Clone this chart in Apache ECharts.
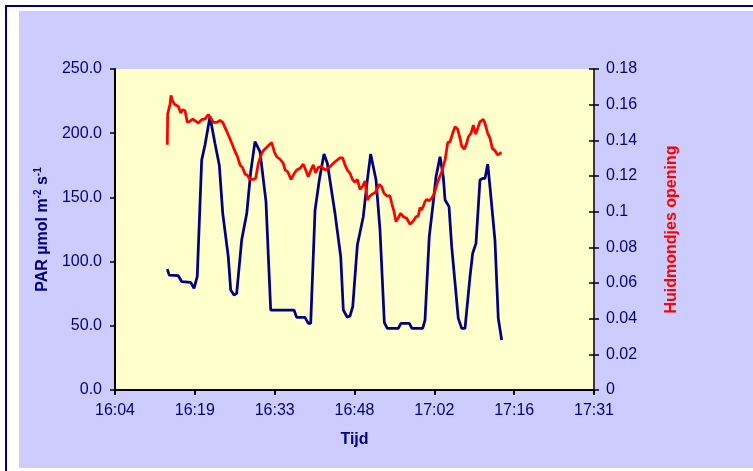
<!DOCTYPE html>
<html>
<head>
<meta charset="utf-8">
<title>PAR en huidmondjes opening</title>
<script src="https://cdn.jsdelivr.net/npm/echarts@6/dist/echarts.min.js"></script>
<style>
  html, body { margin: 0; padding: 0; background: #ffffff; }
  #chart { width: 753px; height: 471px; }
</style>
</head>
<body>
<div id="chart"></div>
<script>
// PAR (µmol m-2 s-1), left axis
const parTimes = [
  '16:14:14','16:14:35','16:16:13','16:16:50','16:18:27','16:19:03','16:19:38','16:20:26',
  '16:21:02','16:21:56','16:22:50','16:23:37','16:24:14','16:25:14','16:25:40','16:26:16',
  '16:26:45','16:27:39','16:28:34','16:29:17','16:30:03','16:30:57','16:32:02','16:32:53',
  '16:37:05','16:37:34','16:39:04','16:39:40','16:40:06','16:40:53','16:41:39','16:42:30',
  '16:43:06','16:44:29','16:45:31','16:45:59','16:46:42','16:47:11','16:47:41','16:48:31',
  '16:49:35','16:50:19','16:50:55','16:51:53','16:52:36','16:53:23','16:53:55','16:55:54',
  '16:56:23','16:57:53','16:58:22','17:00:18','17:00:43','17:01:29','17:02:07','17:02:42',
  '17:03:26','17:04:01','17:04:20','17:05:03','17:05:32','17:06:43','17:07:20','17:07:56',
  '17:08:50','17:09:19','17:09:55','17:10:38','17:11:07','17:11:32','17:12:02','17:12:26',
  '17:13:20','17:13:56','17:14:33'
];
const parValues = [
  94.2, 89.5, 89.0, 84.4, 83.8, 79.2, 88.3, 179.0,
  190.8, 213.0, 192.0, 175.0, 137.6, 103.8, 77.9, 74.0,
  75.3, 116.8, 137.6, 170.0, 193.4, 185.6, 146.7, 62.3,
  62.3, 56.6, 56.6, 51.9, 51.9, 140.0, 163.6, 183.8,
  176.6, 137.6, 103.8, 62.3, 56.6, 57.6, 64.9, 113.0,
  135.0, 163.6, 183.8, 163.6, 124.6, 52.4, 48.0, 48.0,
  51.9, 51.9, 48.0, 48.0, 54.5, 119.4, 142.8, 166.0,
  181.7, 166.0, 148.0, 142.8, 111.6, 55.8, 48.0, 48.0,
  88.3, 106.5, 114.2, 163.6, 164.8, 164.8, 176.0, 158.3,
  116.8, 55.8, 39.0
];

// Huidmondjes opening, right axis
const stomaTimes = [
  '16:14:14','16:14:18','16:14:43','16:14:54','16:15:12','16:15:37','16:16:13','16:16:39',
  '16:17:01','16:17:26','16:17:50','16:18:20','16:18:49','16:19:14','16:19:50','16:20:26',
  '16:21:02','16:21:38','16:22:04','16:22:32','16:23:09','16:23:44','16:24:14','16:24:49',
  '16:25:14','16:25:51','16:26:27','16:26:52','16:27:21','16:27:50','16:28:15','16:28:40',
  '16:29:09','16:29:45','16:30:11','16:30:39','16:31:08','16:31:33','16:32:10','16:32:35',
  '16:33:04','16:33:32','16:33:58','16:34:34','16:35:09','16:35:28','16:35:57','16:36:33',
  '16:37:09','16:37:35','16:38:10','16:38:46','16:39:04','16:39:40','16:40:09','16:40:34',
  '16:41:00','16:41:28','16:42:05','16:42:41','16:43:17','16:43:53','16:44:29','16:44:47',
  '16:45:23','16:45:52','16:46:17','16:46:42','16:47:11','16:47:41','16:48:05','16:48:30',
  '16:49:00','16:49:29','16:49:54','16:50:19','16:50:40','16:51:06','16:51:42','16:52:00',
  '16:52:28','16:52:54','16:53:19','16:53:49','16:54:24','16:54:43','16:55:08','16:55:29',
  '16:55:54','16:56:20','16:56:48','16:57:25','16:58:01','16:58:36','16:59:06','16:59:31',
  '16:59:49','17:00:07','17:00:25','17:00:43','17:01:01','17:01:26','17:01:56','17:02:24',
  '17:03:01','17:03:44','17:04:20','17:04:49','17:05:14','17:05:39','17:06:08','17:06:37',
  '17:07:02','17:07:20','17:07:48','17:08:14','17:08:32','17:09:01','17:09:26','17:09:52',
  '17:10:13','17:10:38','17:11:14','17:11:32','17:12:02','17:12:27','17:12:51','17:13:21',
  '17:13:50','17:14:15','17:14:33'
];
const stomaValues = [
  0.1375, 0.1548, 0.1600, 0.1652, 0.1619, 0.1600, 0.1591, 0.1553,
  0.1572, 0.1566, 0.1501, 0.1507, 0.1520, 0.1510, 0.1497, 0.1516,
  0.1520, 0.1544, 0.1525, 0.1501, 0.1501, 0.1512, 0.1501, 0.1460,
  0.1431, 0.1385, 0.1338, 0.1310, 0.1263, 0.1245, 0.1211, 0.1204,
  0.1181, 0.1181, 0.1187, 0.1271, 0.1318, 0.1342, 0.1361, 0.1374,
  0.1387, 0.1336, 0.1308, 0.1294, 0.1271, 0.1234, 0.1224, 0.1181,
  0.1215, 0.1234, 0.1243, 0.1266, 0.1243, 0.1196, 0.1234, 0.1262,
  0.1218, 0.1249, 0.1252, 0.1234, 0.1243, 0.1262, 0.1280, 0.1290,
  0.1302, 0.1302, 0.1262, 0.1234, 0.1215, 0.1177, 0.1165, 0.1181,
  0.1125, 0.1144, 0.1172, 0.1065, 0.1084, 0.1097, 0.1106, 0.1112,
  0.1153, 0.1140, 0.1103, 0.1089, 0.1089, 0.1047, 0.1000, 0.0944,
  0.0966, 0.0991, 0.0972, 0.0963, 0.0929, 0.0948, 0.0972, 0.0977,
  0.1023, 0.1009, 0.1032, 0.1056, 0.1069, 0.1061, 0.1075, 0.1103,
  0.1168, 0.1224, 0.1290, 0.1387, 0.1392, 0.1435, 0.1476, 0.1462,
  0.1411, 0.1368, 0.1350, 0.1383, 0.1420, 0.1439, 0.1486, 0.1435,
  0.1467, 0.1504, 0.1518, 0.1495, 0.1439, 0.1411, 0.1355, 0.1342,
  0.1318, 0.1327, 0.1331
];

// Time axis ticks (seconds since midnight: 16:04:48 .. 17:31:12, every 14 min 24 s)
const timeAxisMin = 57888;
const timeAxisMax = 63072;
const timeAxisStep = 864;
const timeTickLabels = ['16:04', '16:19', '16:33', '16:48', '17:02', '17:16', '17:31'];

const toSeconds = (s) => {
  const p = s.split(':').map(Number);
  return p[0] * 3600 + p[1] * 60 + (p[2] || 0);
};
const pairUp = (times, values) => times.map((t, i) => [toSeconds(t), values[i]]);

const NAVY = '#000080';
const FONT = "'Liberation Sans', Arial, sans-serif";

const chart = echarts.init(document.getElementById('chart'), null, { renderer: 'canvas' });

chart.setOption({
  backgroundColor: '#ffffff',
  animation: false,
  graphic: [
    {
      type: 'rect', z: -20, silent: true,
      shape: { x: 6, y: 6, width: 800, height: 520 },
      style: { fill: '#ffffff', stroke: NAVY, lineWidth: 2 }
    },
    {
      type: 'rect', z: -19, silent: true,
      shape: { x: 19, y: 11, width: 800, height: 457 },
      style: { fill: '#CCCCFF' }
    }
  ],
  grid: {
    left: 115, right: 159, top: 69, bottom: 81,
    show: true, backgroundColor: '#FFFFCC', borderWidth: 0
  },
  xAxis: {
    type: 'value',
    min: timeAxisMin, max: timeAxisMax, interval: timeAxisStep,
    name: 'Tijd', nameLocation: 'middle', nameGap: 42,
    nameTextStyle: { color: NAVY, fontFamily: FONT, fontSize: 16, fontWeight: 'bold' },
    axisLine: { onZero: false, lineStyle: { color: '#000000', width: 2 } },
    axisTick: { show: true, inside: false, length: 5, lineStyle: { color: '#000000', width: 2 } },
    axisLabel: {
      color: NAVY, fontFamily: FONT, fontSize: 16, margin: 13,
      formatter: (v, i) => timeTickLabels[i] !== undefined ? timeTickLabels[i] : ''
    },
    splitLine: { show: false }
  },
  yAxis: [
    {
      type: 'value', position: 'left',
      min: 0, max: 250, interval: 50,
      name: 'PAR µmol m{sup|-2} s{sup|-1}',
      nameLocation: 'middle', nameRotate: 90, nameGap: 63,
      nameTextStyle: {
        color: NAVY, fontFamily: FONT, fontSize: 16, fontWeight: 'bold',
        rich: {
          sup: { color: NAVY, fontFamily: FONT, fontSize: 10, fontWeight: 'bold', padding: [0, 0, 9, 0] }
        }
      },
      axisLine: { show: true, lineStyle: { color: '#000000', width: 2 } },
      axisTick: { show: true, inside: false, length: 5, lineStyle: { color: '#000000', width: 1.5 } },
      axisLabel: {
        color: NAVY, fontFamily: FONT, fontSize: 16, margin: 13,
        formatter: (v) => v.toFixed(1)
      },
      splitLine: { show: false }
    },
    {
      type: 'value', position: 'right',
      min: 0, max: 0.18, interval: 0.02,
      name: 'Huidmondjes opening',
      nameLocation: 'middle', nameRotate: 90, nameGap: 70,
      nameTextStyle: { color: '#FF0000', fontFamily: FONT, fontSize: 16, fontWeight: 'bold' },
      axisLine: { show: true, lineStyle: { color: '#000000', width: 1.5 } },
      axisTick: { show: true, inside: false, length: 5, lineStyle: { color: '#000000', width: 1.5 } },
      axisLabel: {
        color: NAVY, fontFamily: FONT, fontSize: 16, margin: 12,
        formatter: (v) => String(parseFloat(v.toFixed(2)))
      },
      splitLine: { show: false }
    },
    {
      // inner half of the crossing tick marks on the right axis
      type: 'value', position: 'right',
      min: 0, max: 0.18, interval: 0.02,
      axisLine: { show: false },
      axisTick: { show: true, inside: true, length: 5, lineStyle: { color: '#000000', width: 1.5 } },
      axisLabel: { show: false },
      splitLine: { show: false }
    }
  ],
  series: [
    {
      name: 'PAR',
      type: 'line', xAxisIndex: 0, yAxisIndex: 0,
      data: pairUp(parTimes, parValues),
      showSymbol: false, symbol: 'none',
      lineStyle: { color: NAVY, width: 2.75 },
      itemStyle: { color: NAVY },
      z: 3
    },
    {
      name: 'Huidmondjes opening',
      type: 'line', xAxisIndex: 0, yAxisIndex: 1,
      data: pairUp(stomaTimes, stomaValues),
      showSymbol: false, symbol: 'none',
      lineStyle: { color: '#FF0000', width: 2.75 },
      itemStyle: { color: '#FF0000' },
      z: 4
    }
  ]
});
</script>
</body>
</html>
